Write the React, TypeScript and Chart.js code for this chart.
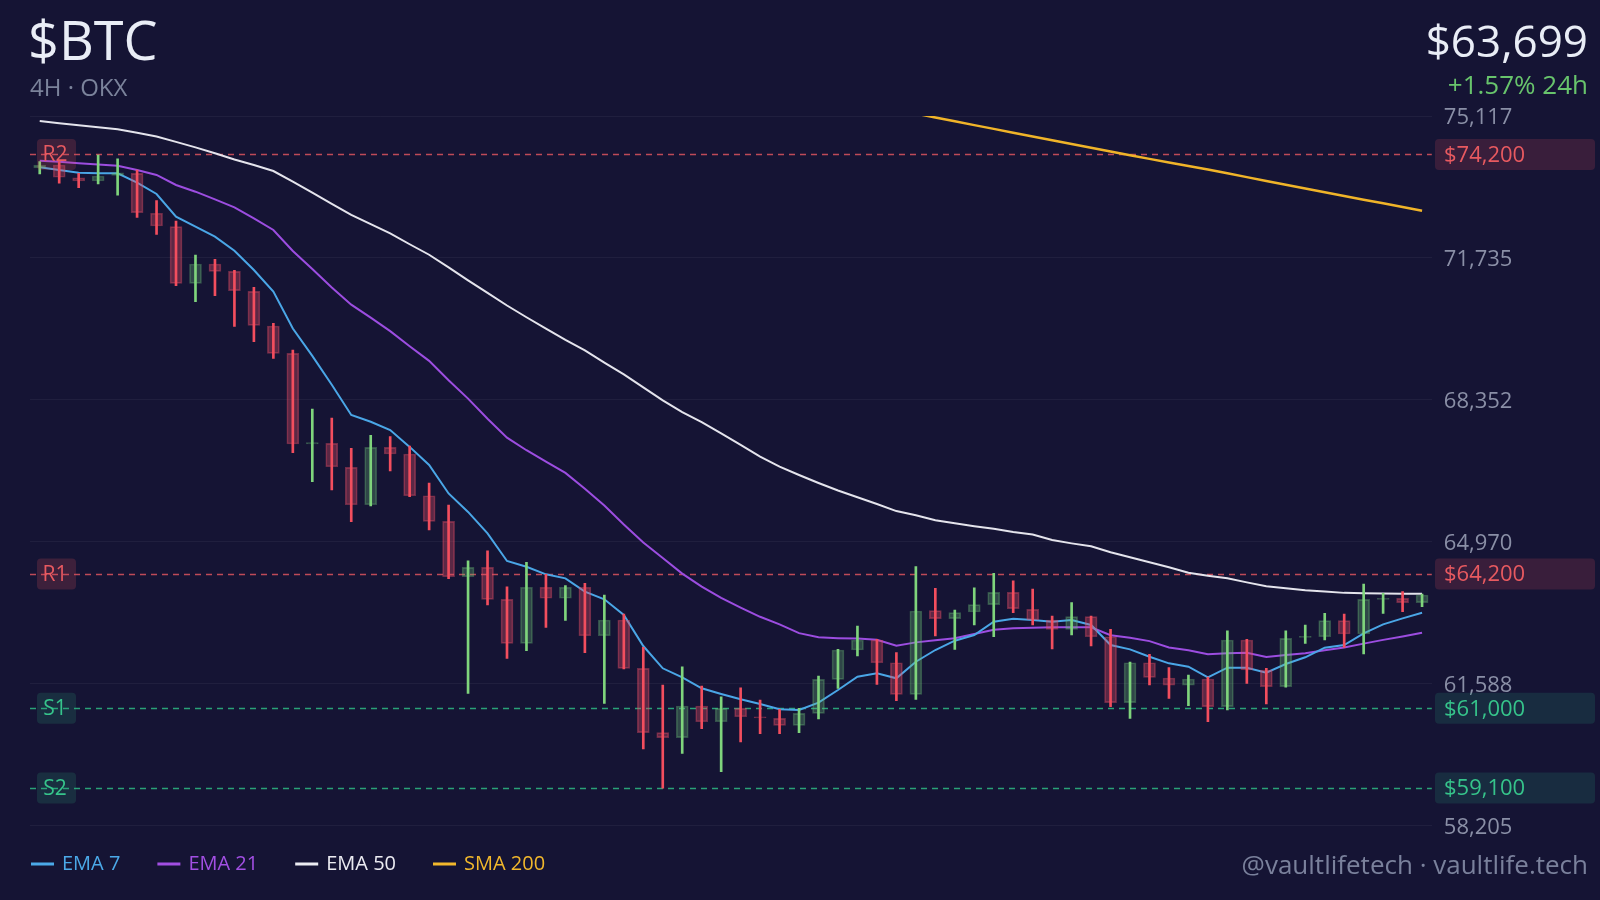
import { useEffect, useRef } from "react";
import { Chart, registerables } from "chart.js";

Chart.register(...registerables);

// ---- Candle data (4H, OKX) ----
const opens = [
  73880, 73950, 73646, 73568, 73703, 73751, 72798, 72480, 71129, 71589, 71415, 70938,
  70111, 69460, 67300, 67314, 66743, 65851, 67220, 67060, 66066, 65456, 64135, 64359,
  63596, 62548, 63883, 63621, 63883, 62729, 63103, 61952, 60417, 60298, 61053, 60679,
  60998, 60798, 60759, 60592, 60878, 61689, 62388, 62626, 62085, 61332, 63326, 63135,
  63294, 63468, 63763, 63357, 63103, 62881, 63182, 62705, 61133, 62085, 61721, 61550,
  61697, 61037, 62626, 61911, 61514, 62690, 62705, 63087, 62769, 63596, 63620, 63516,
];
const highs = [
  74030, 74028, 73751, 74187, 74099, 73830, 73098, 72614, 71804, 71701, 71440, 71034,
  70176, 69539, 68133, 67918, 67196, 67506, 67473, 67251, 66369, 65844, 64516, 64755,
  63897, 64479, 64192, 63921, 63978, 63699, 63246, 62452, 61554, 61990, 61530, 61275,
  61489, 61196, 60974, 60998, 61768, 62404, 62960, 62642, 62324, 64374, 63859, 63341,
  63873, 64216, 64040, 63842, 63199, 63516, 63199, 62881, 62100, 62284, 61967, 61792,
  61745, 62848, 62642, 61951, 62848, 62984, 63262, 63246, 63961, 63739, 63778, 63723,
];
const lows = [
  73735, 73513, 73408, 73496, 73227, 72702, 72297, 71072, 70691, 70834, 70104, 69737,
  69341, 67091, 66400, 66202, 65446, 65820, 66655, 66042, 65248, 64088, 61355, 63461,
  62190, 62371, 62928, 63096, 62324, 61117, 61940, 60028, 59092, 59926, 60512, 59487,
  60195, 60393, 60393, 60417, 60743, 61474, 62245, 61570, 61180, 61212, 62722, 62404,
  62984, 62705, 63278, 62984, 62412, 62745, 62483, 61037, 60759, 61554, 61236, 61061,
  60679, 60958, 61594, 61101, 61500, 62547, 62626, 62452, 62292, 63262, 63302, 63420,
];
const closes = [
  73950, 73656, 73568, 73687, 73765, 72812, 72495, 71129, 71589, 71415, 70953, 70128,
  69460, 67298, 67330, 66757, 65851, 67220, 67060, 66066, 65456, 64135, 64359, 63596,
  62548, 63883, 63621, 63883, 62729, 63103, 61952, 60417, 60298, 61053, 60679, 60998,
  60798, 60770, 60592, 60878, 61689, 62388, 62626, 62085, 61332, 63318, 63135, 63278,
  63468, 63763, 63373, 63103, 62881, 63182, 62705, 61133, 62085, 61737, 61550, 61697,
  61037, 62626, 61911, 61514, 62665, 62715, 63087, 62769, 63596, 63620, 63516, 63699,
];

// ---- Indicator lines ----
const ema7 = [
  73894, 73830, 73765, 73751, 73751, 73527, 73258, 72717, 72478, 72240, 71906, 71446,
  70930, 70050, 69400, 68710, 67990, 67830, 67630, 67230, 66800, 66120, 65680, 65170,
  64510, 64374, 64192, 64097, 63778, 63596, 63222, 62483, 61952, 61737, 61475, 61340,
  61214, 61102, 60976, 60959, 61133, 61435, 61752, 61833, 61714, 62109, 62388, 62610,
  62745, 63062, 63134, 63103, 63062, 63103, 62984, 62507, 62404, 62228, 62070, 61990,
  61737, 61966, 61966, 61847, 62054, 62214, 62443, 62507, 62786, 63000, 63143, 63277,
];
const ema21 = [
  74051, 74028, 73989, 73960, 73932, 73830, 73711, 73472, 73313, 73131, 72940, 72678,
  72400, 71900, 71470, 71030, 70620, 70310, 69990, 69630, 69280, 68820, 68380, 67900,
  67450, 67150, 66880, 66610, 66230, 65830, 65380, 64950, 64580, 64210, 63900, 63630,
  63400, 63180, 63000, 62790, 62690, 62670, 62660, 62630, 62490, 62570, 62620, 62670,
  62770, 62870, 62905, 62920, 62930, 62930, 62930, 62740, 62680, 62600, 62450, 62380,
  62290, 62310, 62320, 62220, 62270, 62310, 62380, 62450, 62540, 62630, 62710, 62800,
];
const ema50 = [
  74998, 74943, 74895, 74850, 74800, 74720, 74630, 74500, 74370, 74230, 74080, 73950,
  73806, 73550, 73290, 73020, 72760, 72540, 72320, 72060, 71810, 71510, 71200, 70900,
  70600, 70320, 70050, 69780, 69530, 69240, 68960, 68650, 68340, 68060, 67820, 67550,
  67280, 67000, 66760, 66560, 66370, 66190, 66030, 65870, 65700, 65600, 65480, 65410,
  65340, 65280, 65200, 65140, 65010, 64930, 64860, 64720, 64600, 64480, 64360, 64230,
  64160, 64100, 64000, 63910, 63860, 63810, 63780, 63750, 63740, 63735, 63732, 63730,
];
const sma200 = [
  null, null, null, null, null, null, null, null, null, null, null, null,
  null, null, null, null, null, null, null, null, null, null, null, null,
  null, null, null, null, null, null, null, null, null, null, null, null,
  null, null, null, null, null, null, null, null, null, 75175, 75082, 74990,
  74900, 74810, 74720, 74630, 74540, 74450, 74360, 74270, 74180, 74095, 74010, 73925,
  73840, 73750, 73660, 73570, 73480, 73390, 73300, 73210, 73120, 73035, 72950, 72860,
];

// ---- Axis ticks & levels ----
const yTicks = [58205, 61588, 64970, 68352, 71735, 75117];
const levelNames = ["R2", "R1", "S1", "S2"];
const levelValues = [74200, 64200, 61000, 59100];
const levelKinds = ["res", "res", "sup", "sup"];

// ---- Legend ----
const legendLabels = ["EMA 7", "EMA 21", "EMA 50", "SMA 200"];
const legendColors = ["#4ba9e8", "#a24fe3", "#ececf2", "#f2b82c"];

const candleLabels = opens.map((_, i) => String(i));

const BG = "#151434";
const FONT = '"Open Sans", "Noto Sans", sans-serif';

const overlayPlugin = {
  id: "overlay",
  beforeDatasetsDraw(chart: any) {
    const { ctx, chartArea, scales } = chart;
    ctx.save();
    levelValues.forEach((v, i) => {
      const py = Math.round(scales.y.getPixelForValue(v)) + 0.5;
      ctx.strokeStyle =
        levelKinds[i] === "res" ? "rgba(232,88,98,0.8)" : "rgba(46,186,132,0.85)";
      ctx.lineWidth = 1.5;
      ctx.setLineDash([6, 5]);
      ctx.beginPath();
      ctx.moveTo(chartArea.left, py);
      ctx.lineTo(chartArea.right, py);
      ctx.stroke();
    });
    ctx.restore();
  },
  afterDraw(chart: any) {
    const { ctx, scales } = chart;
    ctx.save();
    ctx.setLineDash([]);
    // level labels (left and right)
    levelValues.forEach((v, i) => {
      const py = scales.y.getPixelForValue(v);
      const isRes = levelKinds[i] === "res";
      const fill = isRes ? "rgba(224,80,92,0.2)" : "rgba(47,184,132,0.16)";
      const txt = isRes ? "#e85a60" : "#36c48b";
      // left badge
      ctx.fillStyle = fill;
      ctx.beginPath();
      ctx.roundRect(37, py - 15.5, 39, 31, 4);
      ctx.fill();
      ctx.fillStyle = txt;
      ctx.font = `21px ${FONT}`;
      ctx.textAlign = "center";
      ctx.textBaseline = "middle";
      ctx.fillText(levelNames[i], 55, py + 1);
      // right price box
      ctx.fillStyle = isRes ? "rgba(224,80,92,0.18)" : "rgba(47,184,132,0.15)";
      ctx.beginPath();
      ctx.roundRect(1435, py - 15.5, 160, 31, 4);
      ctx.fill();
      ctx.fillStyle = txt;
      ctx.textAlign = "left";
      ctx.font = `22px ${FONT}`;
      ctx.fillText("$" + v.toLocaleString("en-US"), 1444, py + 1);
    });

    // header
    ctx.textBaseline = "alphabetic";
    ctx.textAlign = "left";
    ctx.fillStyle = "#e9edf6";
    ctx.font = `54px ${FONT}`;
    ctx.fillText("$BTC", 28, 60);
    ctx.fillStyle = "#7b839b";
    ctx.font = `24px ${FONT}`;
    ctx.fillText("4H · OKX", 30, 96);

    ctx.textAlign = "right";
    ctx.fillStyle = "#e9edf6";
    ctx.font = `44px ${FONT}`;
    const last = closes[closes.length - 1];
    ctx.fillText("$" + last.toLocaleString("en-US"), 1588, 57);
    ctx.fillStyle = "#68c46c";
    ctx.font = `26px ${FONT}`;
    ctx.fillText("+1.57% 24h", 1588, 94);

    // footer
    ctx.fillStyle = "#7a819c";
    ctx.font = `26px ${FONT}`;
    ctx.fillText("@vaultlifetech · vaultlife.tech", 1588, 874);

    // legend
    ctx.textAlign = "left";
    ctx.textBaseline = "middle";
    ctx.font = `20px ${FONT}`;
    let x = 31;
    const ly = 864;
    legendLabels.forEach((lab, i) => {
      ctx.fillStyle = legendColors[i];
      ctx.fillRect(x, ly - 1.5, 23, 3);
      ctx.fillText(lab, x + 31, ly);
      x += 31 + ctx.measureText(lab).width + 37;
    });
    ctx.restore();
  },
};

export default function App() {
  const ref = useRef<HTMLCanvasElement | null>(null);

  useEffect(() => {
    if (!ref.current) return;
    const up = closes.map((c, i) => c >= opens[i]);
    const bodyFill = up.map((u) => (u ? "rgba(108,190,120,0.3)" : "rgba(230,78,102,0.34)"));
    const bodyBorder = up.map((u) => (u ? "rgba(108,190,120,0.36)" : "rgba(230,78,102,0.42)"));
    const wickColor = up.map((u) => (u ? "#7fd47c" : "#f24e5e"));

    const chart = new Chart(ref.current, {
      type: "bar",
      data: {
        labels: candleLabels,
        datasets: [
          {
            type: "bar",
            label: "wick",
            data: lows.map((l, i) => [l, highs[i]]) as any,
            backgroundColor: wickColor,
            borderWidth: 0,
            barThickness: 2,
            grouped: false,
            order: 0,
          } as any,
          {
            type: "bar",
            label: "body",
            data: opens.map((o, i) => [o, closes[i]]) as any,
            backgroundColor: bodyFill,
            borderColor: bodyBorder,
            borderWidth: 1,
            borderSkipped: false,
            barThickness: 12,
            grouped: false,
            order: 1,
          } as any,
          {
            type: "line",
            label: legendLabels[0],
            data: ema7,
            borderColor: "#4aa6e6",
            borderWidth: 2,
            pointRadius: 0,
            tension: 0,
            order: 2,
          } as any,
          {
            type: "line",
            label: legendLabels[1],
            data: ema21,
            borderColor: "#9c4de0",
            borderWidth: 2,
            pointRadius: 0,
            tension: 0,
            order: 3,
          } as any,
          {
            type: "line",
            label: legendLabels[2],
            data: ema50,
            borderColor: "#e4e4ec",
            borderWidth: 2,
            pointRadius: 0,
            tension: 0,
            order: 4,
          } as any,
          {
            type: "line",
            label: legendLabels[3],
            data: sma200,
            borderColor: "#f0b429",
            borderWidth: 2.5,
            pointRadius: 0,
            tension: 0,
            spanGaps: false,
            order: 5,
          } as any,
        ],
      },
      options: {
        responsive: false,
        maintainAspectRatio: false,
        devicePixelRatio: 1,
        animation: false,
        events: [],
        layout: { padding: { left: 30, top: 116, bottom: 74.5, right: 0 } },
        plugins: {
          legend: { display: false },
          tooltip: { enabled: false },
          title: { display: false },
        },
        scales: {
          x: {
            type: "category",
            display: false,
            offset: true,
            grid: { display: false },
          },
          y: {
            position: "right",
            min: 58205,
            max: 75117,
            afterBuildTicks: (s: any) => {
              s.ticks = yTicks.map((v) => ({ value: v }));
            },
            afterFit: (s: any) => {
              s.width = 168.2;
            },
            border: { display: false },
            grid: { color: "rgba(255,255,255,0.05)", drawTicks: false, lineWidth: 1 },
            ticks: {
              padding: 12,
              labelOffset: 2,
              color: "#8a8fa6",
              font: { family: FONT, size: 22 },
              callback: (v: any) => Math.round(Number(v)).toLocaleString("en-US"),
            },
          },
        },
      } as any,
      plugins: [overlayPlugin],
    });
    return () => chart.destroy();
  }, []);

  return (
    <div
      style={{
        position: "fixed",
        left: 0,
        top: 0,
        width: 1600,
        height: 900,
        background: BG,
      }}
    >
      <canvas ref={ref} width={1600} height={900} style={{ display: "block" }} />
    </div>
  );
}
